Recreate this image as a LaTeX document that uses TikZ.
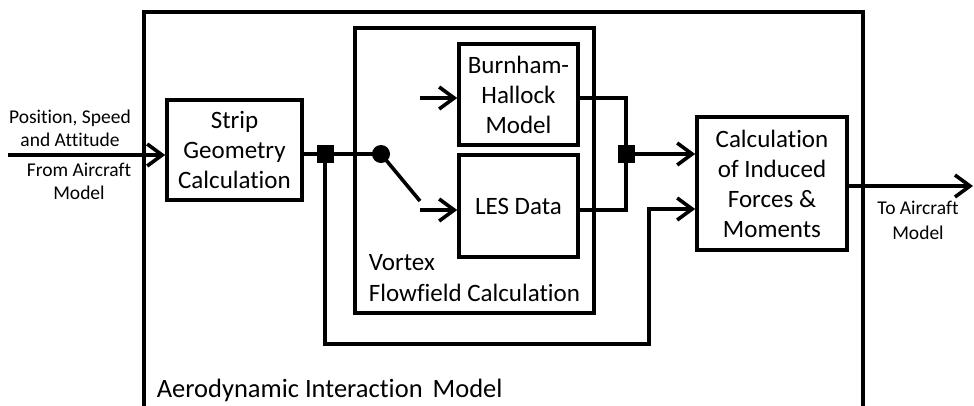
\documentclass[tikz,border=0pt]{standalone}
\usepackage{fontspec}
\setmainfont{Carlito}[Ligatures=NoCommon]
\usetikzlibrary{arrows.meta}

\begin{document}
\begin{tikzpicture}[x=1pt,y=-1pt,
  line width=3.6pt,
  box/.style={draw, line width=3.6pt, align=center, inner sep=0pt,
    font=\fontsize{25}{30}\selectfont},
  frame/.style={draw, line width=3.6pt, inner sep=0pt},
  flow/.style={-{Straight Barb[length=15pt,width=22pt]}},
  note/.style={align=center, inner sep=0pt, font=\fontsize{19.5}{23.5}\selectfont},
  title/.style={inner sep=0pt, anchor=base west},
  junc/.style={fill, minimum width=17pt, minimum height=18pt, inner sep=0pt},
  pivotdot/.style={circle, fill, minimum size=18pt, inner sep=0pt},
]
\useasboundingbox (0,0) rectangle (974,405);
\clip (0,0) rectangle (974,405);

% enclosing model frame, open past the lower edge
\node[frame, minimum width=719pt, minimum height=440pt] (aim) at (503.5,232) {};
\node[title, font=\fontsize{26.5}{30}\selectfont] (aimlab) at (155,397)
  {Aerodynamic Interaction\hspace{10pt}Model};

% vortex flowfield sub-model
\node[frame, minimum width=239pt, minimum height=285pt] (vortex) at (474.5,170.5) {};
\node[title, font=\fontsize{25}{31}\selectfont] (vortexlab) at (367,270)
  {Vortex};
\node[title, font=\fontsize{25}{31}\selectfont] (vortexlab2) at (367,301)
  {Flowfield Calculation};

% blocks
\node[box, minimum width=135pt, minimum height=100pt] (strip) at (234.5,150)
  {Strip\\Geometry\\Calculation};
\node[box, minimum width=119pt, minimum height=101pt] (bh) at (518.5,94.5)
  {Burnham-\\Hallock\\Model};
\node[box, minimum width=119pt, minimum height=102pt] (les) at (518.5,206)
  {LES Data};
\node[box, minimum width=150pt, minimum height=133pt] (calc) at (772,183.5)
  {Calculation\\of Induced\\Forces \&\\Moments};

% external labels
\node[note] (inlab1) at (70,128.5) {Position, Speed\\and Attitude};
\node[note] (inlab2) at (79,181.5) {From Aircraft\\Model};
\node[note, font=\fontsize{19.5}{25}\selectfont] (outlab) at (918,220.5) {To Aircraft\\Model};

% junctions and switch
\node[junc] (j1) at (325,154) {};
\node[junc] (j2) at (626,154) {};
\node[pivotdot] (pivot) at (381,154) {};

\coordinate (src) at (8,155);
\coordinate (armend) at (420,201);
\coordinate (bhin) at (420,98);
\coordinate (lesin) at (420,210);
\coordinate (fb1) at (325,344);
\coordinate (fb2) at (649,344);
\coordinate (fbin) at (649,209);
\coordinate (dest) at (973,186);

% signal flow
\draw[flow] (src) -- (src -| strip.west);
\draw (strip.east |- j1) -- (j1.center) -- (pivot.center);
\draw (pivot.center) -- (armend);
\draw[flow] (bhin) -- (bhin -| bh.west);
\draw[flow] (lesin) -- (lesin -| les.west);
\draw (bhin -| bh.east) -| (j2.center);
\draw (lesin -| les.east) -| (j2.center);
\draw[flow] (j2.center) -- (j2 -| calc.west);
\draw[flow] (j1.center) -- (fb1) -- (fb2) -- (fbin) -- (fbin -| calc.west);
\draw[flow] (calc.east |- dest) -- (dest);
\end{tikzpicture}
\end{document}
